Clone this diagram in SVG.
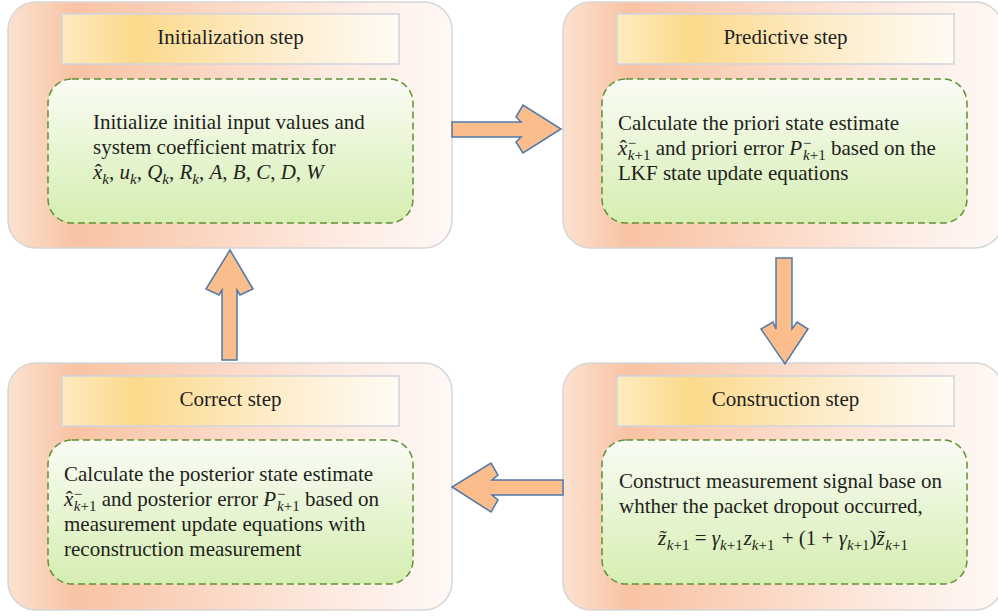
<svg xmlns="http://www.w3.org/2000/svg" width="998" height="616" viewBox="0 0 998 616">
<defs>
<linearGradient id="gp" x1="0" y1="0" x2="1" y2="0">
<stop offset="0" stop-color="#fce2d2"/>
<stop offset="0.15" stop-color="#f8c3a3"/>
<stop offset="0.42" stop-color="#fbd4bf"/>
<stop offset="0.75" stop-color="#fdebe2"/>
<stop offset="1" stop-color="#fff8f5"/>
</linearGradient>
<linearGradient id="gt" x1="0" y1="0" x2="1" y2="0">
<stop offset="0" stop-color="#fdebbf"/>
<stop offset="0.22" stop-color="#fcd98b"/>
<stop offset="0.6" stop-color="#fdebc6"/>
<stop offset="1" stop-color="#fffbf4"/>
</linearGradient>
<linearGradient id="gg" x1="0" y1="0" x2="0" y2="1">
<stop offset="0" stop-color="#fafcf5"/>
<stop offset="1" stop-color="#d5eeb1"/>
</linearGradient>
</defs>
<style>
.panel{fill:url(#gp);stroke:#d6d6d6;stroke-width:1.5}
.title{fill:url(#gt);stroke:#cfd5de;stroke-width:1.5}
.box{fill:url(#gg);stroke:#5e9132;stroke-width:1.5;stroke-dasharray:7 4}
.t{font-family:"Liberation Serif",serif;font-size:21px;fill:#231f20}
.i{font-style:italic}
.s{font-size:15px}
.arrow{fill:#fbbd8c;stroke:#4f79a8;stroke-width:1.5;stroke-linejoin:miter}
</style>
<rect width="998" height="616" fill="#ffffff"/>

<g id="init">
<rect class="panel" x="8" y="2" width="444" height="246" rx="28"/>
<rect class="title" x="62" y="14" width="337" height="50"/>
<rect class="box" x="48" y="79" width="365" height="144" rx="24"/>
<text class="t" x="230.5" y="44" text-anchor="middle">Initialization step</text>
<text class="t" x="93" y="129">Initialize initial input values and</text>
<text class="t" x="93" y="154">system coefficient matrix for</text>
<text class="t" x="93" y="179"><tspan class="i">x</tspan><tspan dx="-7.5">ˆ</tspan><tspan class="i s" dx="0.5" dy="5">k</tspan><tspan dy="-5">, </tspan><tspan class="i">u</tspan><tspan class="i s" dy="5">k</tspan><tspan dy="-5">, </tspan><tspan class="i">Q</tspan><tspan class="i s" dy="5">k</tspan><tspan dy="-5">, </tspan><tspan class="i">R</tspan><tspan class="i s" dy="5">k</tspan><tspan dy="-5">, </tspan><tspan class="i">A</tspan><tspan>, </tspan><tspan class="i">B</tspan><tspan>, </tspan><tspan class="i">C</tspan><tspan>, </tspan><tspan class="i">D</tspan><tspan>, </tspan><tspan class="i">W</tspan></text>
</g>

<g id="predict">
<rect class="panel" x="563" y="2" width="440" height="246" rx="28"/>
<rect class="title" x="617" y="14" width="337" height="50"/>
<rect class="box" x="602" y="79" width="365" height="144" rx="24"/>
<text class="t" x="785.5" y="44" text-anchor="middle">Predictive step</text>
<text class="t" x="618" y="130">Calculate the priori state estimate</text>
<text class="t" x="618" y="155"><tspan class="i">x</tspan><tspan dx="-7.5">ˆ</tspan><tspan class="s" dx="1" dy="-7">−</tspan><tspan class="i s" dx="-8.5" dy="12">k</tspan><tspan class="s">+1</tspan><tspan dy="-5"> and priori error </tspan><tspan class="i">P</tspan><tspan class="s" dx="1" dy="-7">−</tspan><tspan class="i s" dx="-8.5" dy="12">k</tspan><tspan class="s">+1</tspan><tspan dy="-5"> based on the</tspan></text>
<text class="t" x="618" y="180">LKF state update equations</text>
</g>

<g id="correct">
<rect class="panel" x="8" y="363" width="444" height="247" rx="28"/>
<rect class="title" x="62" y="376" width="337" height="50"/>
<rect class="box" x="48" y="440" width="365" height="144" rx="24"/>
<text class="t" x="230.5" y="406" text-anchor="middle">Correct step</text>
<text class="t" x="64" y="481">Calculate the posterior state estimate</text>
<text class="t" x="64" y="506"><tspan class="i">x</tspan><tspan dx="-7.5">ˆ</tspan><tspan class="s" dx="1" dy="-7">−</tspan><tspan class="i s" dx="-8.5" dy="12">k</tspan><tspan class="s">+1</tspan><tspan dy="-5"> and posterior error </tspan><tspan class="i">P</tspan><tspan class="s" dx="1" dy="-7">−</tspan><tspan class="i s" dx="-8.5" dy="12">k</tspan><tspan class="s">+1</tspan><tspan dy="-5"> based on</tspan></text>
<text class="t" x="64" y="531">measurement update equations with</text>
<text class="t" x="64" y="556">reconstruction measurement</text>
</g>

<g id="construct">
<rect class="panel" x="563" y="363" width="440" height="247" rx="28"/>
<rect class="title" x="617" y="376" width="337" height="50"/>
<rect class="box" x="602" y="440" width="365" height="144" rx="24"/>
<text class="t" x="785.5" y="406" text-anchor="middle">Construction step</text>
<text class="t" x="619" y="488">Construct measurement signal base on</text>
<text class="t" x="619" y="513">whther the packet dropout occurred,</text>
<text class="t" x="783" y="545" text-anchor="middle"><tspan class="i">z</tspan><tspan dx="-6.5">˜</tspan><tspan class="i s" dy="5">k</tspan><tspan class="s">+1</tspan><tspan dy="-5"> = </tspan><tspan class="i">γ</tspan><tspan class="i s" dy="5">k</tspan><tspan class="s">+1</tspan><tspan class="i" dx="1" dy="-5">z</tspan><tspan class="i s" dy="5">k</tspan><tspan class="s">+1</tspan><tspan dx="2" dy="-5"> + (1 + </tspan><tspan class="i">γ</tspan><tspan class="i s" dy="5">k</tspan><tspan class="s">+1</tspan><tspan dy="-5">)</tspan><tspan class="i">z</tspan><tspan dx="-6.5">˜</tspan><tspan class="i s" dy="5">k</tspan><tspan class="s">+1</tspan></text>
</g>

<g id="connectors">
<polygon class="arrow" points="452,122 521,122 516,117 523,105 561,129 523,153 516,142 521,137 452,137"/>
<polygon class="arrow" points="776,258 792,258 792,329 797,322 808,329 785,364 761,329 773,322 776,329"/>
<polygon class="arrow" points="563,480 492,480 498,475 491,463 452,487 491,512 498,500 492,495 563,495"/>
<polygon class="arrow" points="222,360 237,360 237,290 240,295 253,289 230,250 206,289 219,295 222,290"/>
</g>
</svg>
